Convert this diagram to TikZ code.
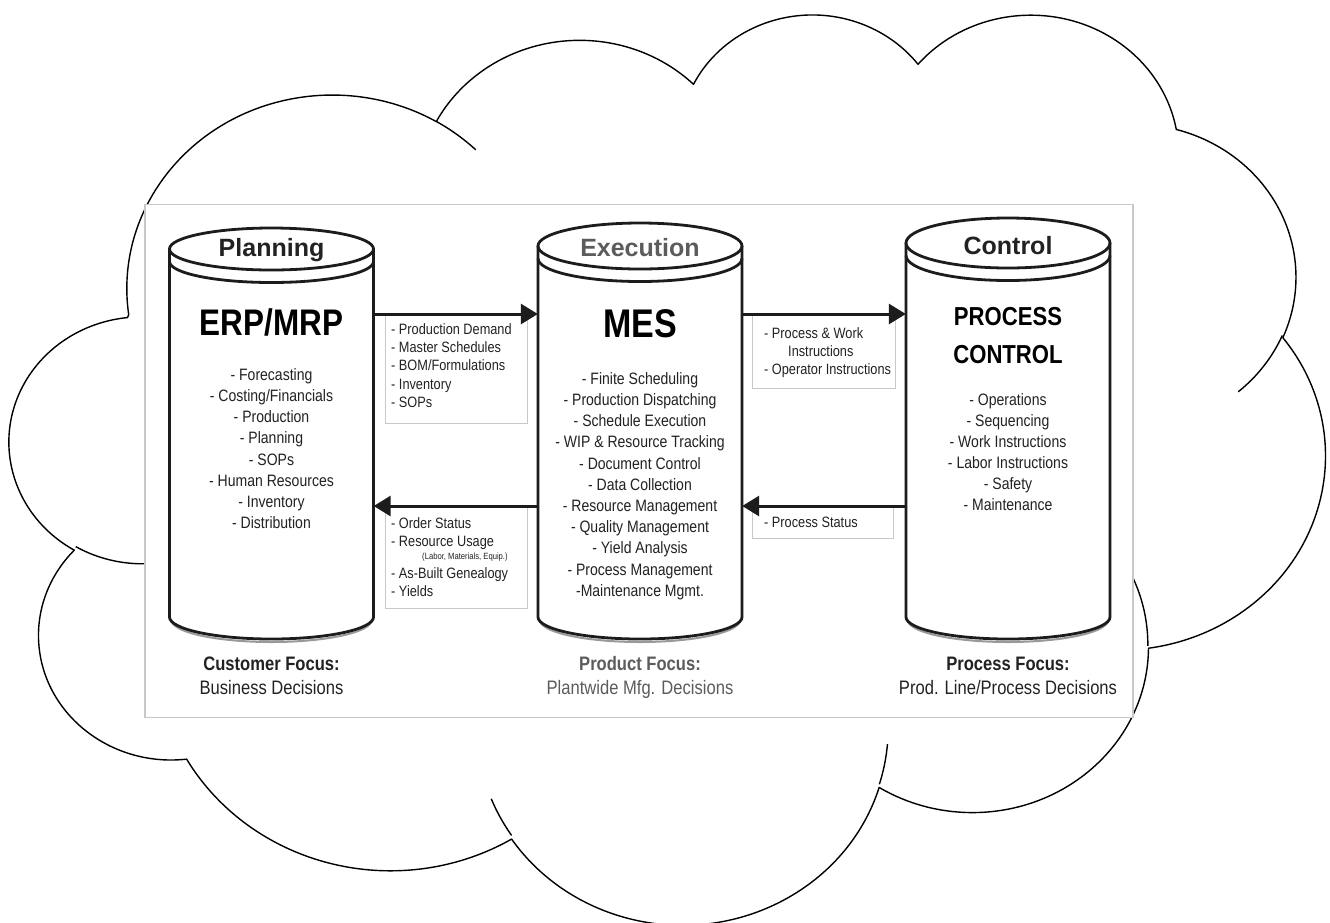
\documentclass[tikz,border=0pt]{standalone}
\usepackage{fontspec}
\setmainfont{Liberation Sans}
\newfontfamily\narrowfont[FakeStretch=0.85]{Liberation Sans}
\usetikzlibrary{arrows.meta}

\definecolor{ink}{HTML}{1C1C1C}
\definecolor{txt}{HTML}{222222}
\definecolor{soft}{HTML}{5C5C5C}
\definecolor{rulegray}{HTML}{C8C8C8}

% box of the cloud outline (shape units: 432 = full width/height)
\def\cX{10}\def\cY{12}\def\cW{1315}\def\cH{910}

% one elliptical arc of the cloud; start angle and sweep are ray angles
% in shape units, turned here into the parameter angles that TikZ uses
\newcommand\cloudseg[5]{%
  \pgfmathsetmacro\crx{#2/432*\cW}%
  \pgfmathsetmacro\cry{#3/432*\cH}%
  \pgfmathsetmacro\cta{atan2(#2*sin(#4),#3*cos(#4))}%
  \pgfmathsetmacro\ctb{atan2(#2*sin(#4+#5),#3*cos(#4+#5))}%
  \pgfmathsetmacro\ctd{\ctb-\cta}%
  \pgfmathsetmacro\ctd{(#5>0)*(\ctd<0)*360-(#5<0)*(\ctd>0)*360+\ctd}%
  \expandafter\xdef\csname cseg#1\endcsname{arc[start angle=\cta,delta angle=\ctd,x radius=\crx,y radius=\cry]}%
}
\newcommand\cloudpt[2]{({\cX+#1/432*\cW},{\cY+#2/432*\cH})}

% a drum: name, centre x, centre y of the lid, lid half height
\newcommand\drawdrum[4]{%
  \draw[drumshade] (#2-100,620) arc[start angle=180,end angle=0,x radius=100,y radius=22];
  \draw[drumline] (#2-102,#3) -- (#2-102,617) arc[start angle=180,end angle=0,x radius=102,y radius=22] -- (#2+102,#3);
  \draw[drumline] (#2,#3) ellipse[x radius=102,y radius=#4];
  \draw[drumline] (#2-102,#3+12.5) arc[start angle=180,end angle=0,x radius=102,y radius=#4];
  \node[drumbody, minimum height={617-#3}] (#1) at (#2,{(617+#3)/2}) {};
}

\tikzset{
  cloudline/.style={draw=black, line width=1.4pt, line join=round},
  pictureframe/.style={draw=rulegray, line width=1.6pt, fill=white, inner sep=0pt},
  drumline/.style={draw=ink, line width=2.8pt},
  drumshade/.style={draw=black!40, line width=2pt},
  drumbody/.style={inner sep=0pt, minimum width=204pt},
  infobox/.style={draw=rulegray, line width=1.3pt, fill=white, inner sep=0pt, anchor=north west},
  flow/.style={draw=ink, line width=3pt, -{Triangle[length=17pt,width=20pt]}},
  drumtitle/.style={font=\bfseries\fontsize{25}{30}\selectfont, text=txt, inner sep=0pt, anchor=base},
  drumname/.style={font=\narrowfont\bfseries\fontsize{37}{40}\selectfont, text=black, inner sep=0pt, anchor=base},
  drumnamesmall/.style={font=\narrowfont\bfseries\fontsize{26}{30}\selectfont, text=black, inner sep=0pt, anchor=base},
  duties/.style={font=\narrowfont\fontsize{16.5}{21.2}\selectfont, text=txt, align=center, inner sep=0pt, anchor=north},
  flowtext/.style={font=\narrowfont\fontsize{15}{18.3}\selectfont, text=txt, align=left, inner sep=0pt, anchor=north west},
  focuslabel/.style={font=\narrowfont\bfseries\fontsize{19.5}{24}\selectfont, text=txt, inner sep=0pt, anchor=base},
  decidelabel/.style={font=\narrowfont\fontsize{19.5}{24}\selectfont, text=txt, inner sep=0pt, anchor=base},
}

\begin{document}
\begin{tikzpicture}[x=1pt,y=-1pt]
\useasboundingbox (0,0) rectangle (1330,922);
\fill[white] (0,0) rectangle (1330,922);

% cloud: outer outline
\cloudseg{A}{67.53}{91.90}{-190.48748}{123.78053}
\cloudseg{B}{53.33}{72.67}{-144.10238}{89.94523}
\cloudseg{C}{43.65}{59.45}{-145.80792}{99.72302}
\cloudseg{D}{48.57}{65.95}{-130.98607}{117.24173}
\cloudseg{E}{53.33}{72.73}{-78.70888}{109.02692}
\cloudseg{F}{67.75}{92.20}{-46.26725}{130.269}
\cloudseg{G}{57.85}{78.67}{0.62502}{114.03333}
\cloudseg{H}{67.52}{92.15}{22.4516}{115.17255}
\cloudseg{I}{77.20}{105.43}{66.24263}{75.71102}
\cloudseg{J}{43.60}{59.18}{-274.94208}{146.73557}
\cloudseg{K}{43.45}{59.45}{-246.8285}{152.51885}
% cloud: arc ends that run on past a notch
\cloudseg{iA}{43.45}{59.45}{86.742}{26.4295}
\cloudseg{iC}{67.52}{92.15}{137.6242}{14.0811}
\cloudseg{iD}{67.52}{92.15}{6.4533}{15.9984}
\cloudseg{iE}{57.85}{78.67}{-70.2924}{70.9174}
\cloudseg{iF}{53.33}{72.73}{30.318}{27.7515}
\cloudseg{iJ}{67.53}{91.90}{-66.707}{12.3194}

\draw[cloudline] \cloudpt{39}{143.70} \csegA \csegB \csegC \csegD \csegE \csegF \csegG \csegH \csegI \csegJ \csegK -- cycle;
\draw[cloudline]
  \cloudpt{46.93}{261.77} \csegiA
  \cloudpt{164.78}{390.90} \csegiC
  \cloudpt{288.27}{347.51} \csegiD
  \cloudpt{341.29}{229.54} \csegiE
  \cloudpt{417.98}{153.54} \csegiF
  \cloudpt{140.00}{51.92} \csegiJ;

% picture frame
\node[pictureframe, minimum width=988pt, minimum height=513pt] (frame) at (639,461) {};

% the three drums
\drawdrum{plan}{271.5}{249}{21}
\drawdrum{exec}{640}{246}{23}
\drawdrum{ctrl}{1008}{243}{25}

% information boxes between the drums
\node[infobox, minimum width=142pt, minimum height=109pt] (boxA) at (385,314) {};
\node[infobox, minimum width=142pt, minimum height=102pt] (boxB) at (385,506) {};
\node[infobox, minimum width=143pt, minimum height=74pt] (boxC) at (752,314) {};
\node[infobox, minimum width=141pt, minimum height=32pt] (boxD) at (752,506) {};

% flows
\draw[flow] (plan.east |- boxA.north) -- (exec.west |- boxA.north);
\draw[flow] (exec.west |- boxB.north) -- (plan.east |- boxB.north);
\draw[flow] (exec.east |- boxC.north) -- (ctrl.west |- boxC.north);
\draw[flow] (ctrl.west |- boxD.north) -- (exec.east |- boxD.north);

% box texts
\node[flowtext] (boxAtxt) at (391,323) {\rule{0pt}{11pt}- Production Demand\\- Master Schedules\\- BOM/Formulations\\- Inventory\\- SOPs};
\node[flowtext] (boxBtxt) at (391,517) {\rule{0pt}{11pt}- Order Status\\- Resource Usage\\[-5pt]\hspace*{31pt}{\fontsize{9}{10}\selectfont (Labor, Materials, Equip.)}\\- As-Built Genealogy\\- Yields};
\node[flowtext] (boxCtxt) at (764,327) {\rule{0pt}{11pt}- Process \& Work\\\hspace*{24pt}Instructions\\- Operator Instructions};
\node[flowtext] (boxDtxt) at (764,516) {\rule{0pt}{11pt}- Process Status};

% planning
\node[drumtitle] (planT) at (271.5,256) {Planning};
\node[drumname] (planN) at (271.5,335) {ERP/MRP};
\node[duties] (planL) at (271.5,367) {\rule{0pt}{13pt}- Forecasting\\- Costing/Financials\\- Production\\- Planning\\- SOPs\\- Human Resources\\- Inventory\\- Distribution};
\node[focuslabel] (planF) at (271.5,670) {Customer Focus:};
\node[decidelabel] (planD) at (271.5,694) {Business Decisions};

% execution
\node[drumtitle, text=soft] (execT) at (640,256) {Execution};
\node[drumname, font=\narrowfont\bfseries\fontsize{40}{44}\selectfont] (execN) at (640,337) {MES};
\node[duties] (execL) at (640,371) {\rule{0pt}{13pt}- Finite Scheduling\\- Production Dispatching\\- Schedule Execution\\- WIP \& Resource Tracking\\- Document Control\\- Data Collection\\- Resource Management\\- Quality Management\\- Yield Analysis\\- Process Management\\-Maintenance Mgmt.};
\node[focuslabel, text=soft] (execF) at (640,670) {Product Focus:};
\node[decidelabel, text=soft] (execD) at (640,694) {Plantwide Mfg. Decisions};

% control
\node[drumtitle] (ctrlT) at (1008,254) {Control};
\node[drumnamesmall] (ctrlN1) at (1008,325) {PROCESS};
\node[drumnamesmall] (ctrlN2) at (1008,363) {CONTROL};
\node[duties, font=\narrowfont\fontsize{16.5}{21}\selectfont] (ctrlL) at (1008,392) {\rule{0pt}{13pt}- Operations\\- Sequencing\\- Work Instructions\\- Labor Instructions\\- Safety\\- Maintenance};
\node[focuslabel] (ctrlF) at (1008,670) {Process Focus:};
\node[decidelabel] (ctrlD) at (1008,694) {Prod. Line/Process Decisions};
\end{tikzpicture}
\end{document}
